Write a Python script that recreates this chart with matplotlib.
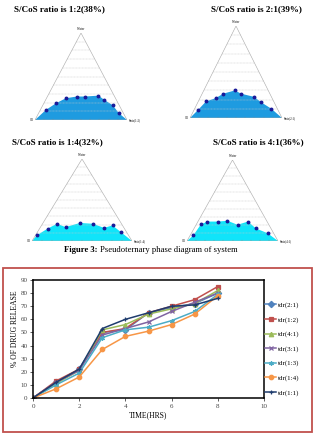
import matplotlib
matplotlib.use('Agg')
import matplotlib.pyplot as plt
from matplotlib.patches import Rectangle

plt.rcParams['font.family'] = ['Liberation Serif', 'DejaVu Serif']

# phase boundary points, % water and % Smix (oil is the rest)
water_12 = [11.5, 19, 25, 27, 27, 28, 23, 17, 8]
smix_12 = [6, 13, 21, 32, 41, 55, 64, 76, 87]
water_21 = [9, 18, 21.5, 26.5, 30, 26.5, 23, 17, 10]
smix_21 = [4.5, 8.4, 17, 23, 34, 42, 58, 69, 83.5]
water_14 = [7, 15, 21, 17, 22, 21, 16, 19, 10.5]
smix_14 = [1.5, 8, 14.5, 25, 37, 50.5, 64, 71, 84]
water_41 = [7, 20.5, 24, 24, 25, 20, 24, 15.5, 9.5]
smix_41 = [3.5, 5, 10.5, 22.5, 32, 45.5, 55, 68, 84]

titles = ['S/CoS ratio is 1:2(38%)', 'S/CoS ratio is 2:1(39%)',
          'S/CoS ratio is 1:4(32%)', 'S/CoS ratio is 4:1(36%)']
smix_names = ['Smix(1:2)', 'Smix(2:1)', 'Smix(1:4)', 'Smix(4:1)']

# drug release vs time
hours = [0, 1, 2, 3, 4, 5, 6, 7, 8]
release = {
    'tdr(2:1)': [0, 12, 22, 50, 52, 65, 69, 72, 80],
    'tdr(1:2)': [0, 13, 22, 50, 53, 65, 70, 75, 85],
    'tdr(4:1)': [0, 11, 21, 52, 56, 64, 68, 72, 82],
    'tdr(3:1)': [0, 12, 21, 48, 53, 58, 66, 73, 80],
    'tdr(1:3)': [0, 10, 19, 46, 52, 54, 59, 66, 79],
    'tdr(1:4)': [0, 7, 16, 37, 47, 51, 56, 64, 78],
    'tdr(1:1)': [0, 12, 22, 53, 60, 65, 70, 71, 76],
}
colors = ['#4F81BD', '#C0504D', '#9BBB59', '#8064A2', '#4BACC6', '#F79646', '#1F3C6E']
markers = ['D', 's', '^', 'x', (6, 2, 0), 'o', '+']

W, H = 316, 438
fig = plt.figure(figsize=(W / 100, H / 100), dpi=100)


def box(l, t, r, b):
    return [l / W, 1 - b / H, (r - l) / W, (b - t) / H]


def ternary(rect, water, smix, fill, name):
    ax = fig.add_axes(rect)
    ax.set_xlim(0, 100)
    ax.set_ylim(0, 100)
    ax.axis('off')
    for w in range(10, 100, 10):
        ax.plot([w / 2, 100 - w / 2], [w, w], color='#c8c8c8', lw=0.35, ls=(0, (2, 1)))
    ax.plot([0, 50, 100, 0], [0, 100, 0, 0], color='#b0b0b0', lw=0.45)
    for t in range(10, 100, 10):
        ax.plot([t, t], [0, 1.5], color='#888888', lw=0.3)
    x = [s + w / 2 for s, w in zip(smix, water)]
    ax.fill([0] + x + [100], [0] + water + [0], color=fill, lw=0)
    ax.plot(x, water, ls='none', marker='o', ms=1.8, color='#1a1a9a')
    ax.text(50, 102, 'Water', fontsize=2.2, ha='center', va='bottom')
    ax.text(-1.5, 0, 'Oil', fontsize=2.2, ha='right', va='center')
    ax.text(101.5, 0, name, fontsize=2.2, ha='left', va='center')


ternary(box(35, 33, 127, 120), water_12, smix_12, '#1E9BE0', smix_names[0])
ternary(box(190, 26, 282, 118), water_21, smix_21, '#1E9BE0', smix_names[1])
ternary(box(32, 159, 132, 241), water_14, smix_14, '#10E4FA', smix_names[2])
ternary(box(187, 160, 278, 241), water_41, smix_41, '#10E4FA', smix_names[3])

for (cx, cy), t in zip([(59, 9), (256, 9), (57, 142), (258, 142)], titles):
    fig.text(cx / W, 1 - cy / H, t, fontsize=6.5, fontweight='bold', ha='center', va='center')

cap1 = fig.text(64 / W, 1 - 250 / H, 'Figure 3:', fontsize=6.2, fontweight='bold', ha='left', va='center')
rend = fig.canvas.get_renderer()
x_end = cap1.get_window_extent(rend).x1
fig.text((x_end + 2) / W, 1 - 250 / H, 'Pseudoternary phase diagram of system', fontsize=6.2,
         ha='left', va='center')

# red frame around the release chart
fig.add_artist(Rectangle((3 / W, 1 - 432 / H), 309 / W, 164 / H, transform=fig.transFigure,
                         fill=False, edgecolor='#C0504D', lw=1.3))

ax = fig.add_axes(box(33, 280, 264, 398))
for (lab, vals), c, m in zip(release.items(), colors, markers):
    ax.plot(hours, vals, color=c, marker=m, ms=3.2, lw=1.1, mew=0.9, label=lab)
ax.set_xlim(0, 10)
ax.set_ylim(0, 90)
ax.set_xticks(range(0, 11, 2))
ax.set_yticks(range(0, 91, 10))
ax.tick_params(labelsize=5, length=2, width=0.6, colors='#444444', pad=2)
for s in ax.spines.values():
    s.set_linewidth(1.1)
ax.set_xlabel('TIME(HRS)', fontsize=5.5, labelpad=2)
fig.text(15 / W, 1 - 329 / H, '% OF DRUG RELEASE', fontsize=5.5, rotation=90, ha='center', va='center')
ax.legend(loc='upper left', bbox_to_anchor=(265 / W, 1 - 302 / H), bbox_transform=fig.transFigure,
          frameon=False, fontsize=5, handlelength=1.6, handletextpad=0.3, labelspacing=1.2,
          borderpad=0, borderaxespad=0)

fig.savefig('out.png', dpi=100)
